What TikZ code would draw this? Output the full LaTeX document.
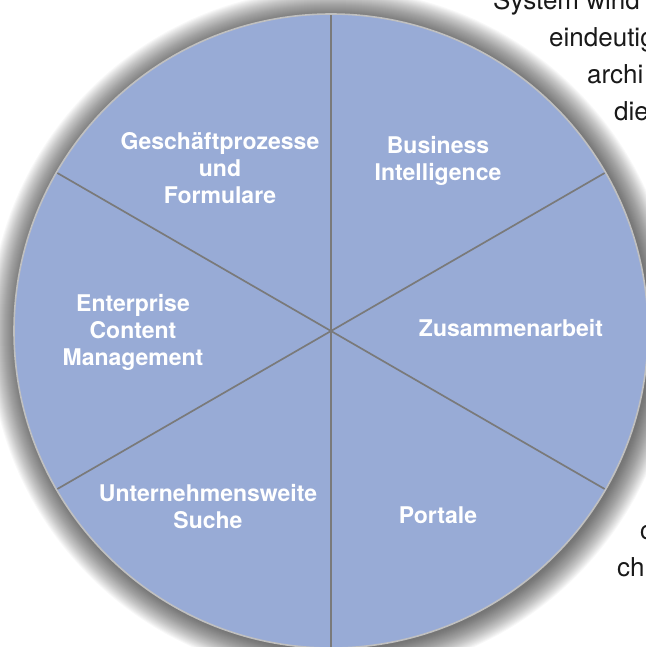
\documentclass[tikz,border=0pt]{standalone}
\usepackage{fontspec}
\setmainfont{TeX Gyre Heros}
\usepackage{xcolor}
\usetikzlibrary{positioning}
\definecolor{pieblue}{RGB}{152,171,214}
\definecolor{spokegray}{RGB}{122,122,122}
\definecolor{rimgray}{RGB}{192,192,192}

\begin{document}
\begin{tikzpicture}[
    x=1pt, y=-1pt,
    sector/.style={text=white, font=\bfseries\fontsize{23}{27}\selectfont, align=center, inner sep=0pt},
    bgtext/.style={anchor=base west, inner sep=0pt, text=black!90, font=\fontsize{26}{36}\selectfont},
    spoke/.style={draw=spokegray, line width=1.7pt},
    rim/.style={draw=rimgray, line width=1.6pt, fill=pieblue}
]
\useasboundingbox (0,0) rectangle (645,647);

% Text around the picture
\node[bgtext] (w1) at (493,10) {System wind};
\node[bgtext] (w2) at (549,47) {eindeutig};
\node[bgtext] (w3) at (587,84) {archi};
\node[bgtext] (w4) at (614,121) {die};
\node[bgtext] (w5) at (640,539) {c};
\node[bgtext] (w6) at (617,576) {ch};

% Shadow
\coordinate (hub) at (331,331);
\coordinate (shadowhub) at (333,333);
\foreach \s in {1,...,28}
  \fill[black, opacity=0.028] (shadowhub) circle (316+\s);

% Disc
\draw[rim] (hub) circle (317);

% Spokes
\path (hub) ++(90:316) coordinate (e90)  (hub) ++(270:316) coordinate (e270)
      (hub) ++(30:316) coordinate (e30)  (hub) ++(210:316) coordinate (e210)
      (hub) ++(150:316) coordinate (e150) (hub) ++(330:316) coordinate (e330);
\draw[spoke] (e90) -- (e270);
\draw[spoke] (e30) -- (e210);
\draw[spoke] (e150) -- (e330);

% Sector labels
\node[sector] (bpf) at (220,168) {Geschäftprozesse\\und\\Formulare};
\node[sector] (bi) at (438,161) {Business\\Intelligence};
\node[sector] (zus) at (511,328) {Zusammenarbeit};
\node[sector] (ecm) at (133,332) {Enterprise\\Content\\Management};
\node[sector] (such) at (208,507) {Unternehmensweite\\Suche};
\node[sector] (portal) at (438,515) {Portale};

\end{tikzpicture}
\end{document}
